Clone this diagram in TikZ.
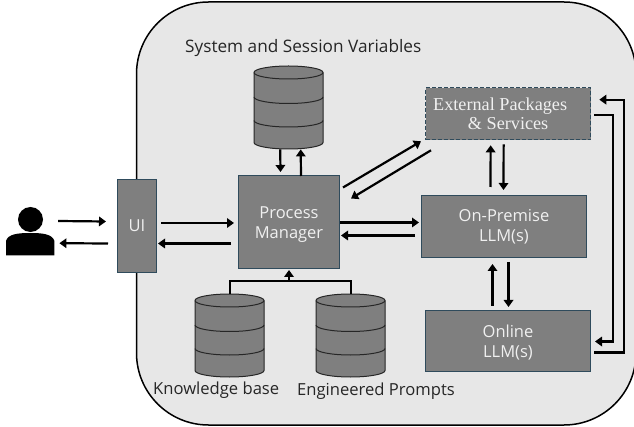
\documentclass[tikz,border=0pt]{standalone}
\usepackage{fontspec}
\setmainfont{Open Sans}
\newfontfamily\serifbox{Liberation Serif}
\usetikzlibrary{arrows.meta,calc}
\definecolor{boxgray}{HTML}{7F7F7F}
\definecolor{boxedge}{HTML}{2F4B5C}
\definecolor{panel}{HTML}{E7E7E7}
\definecolor{labelink}{HTML}{262626}
\definecolor{boxink}{HTML}{F0F0F0}
\tikzset{
  flow/.style={line width=2.2pt,draw=black,-{Triangle[length=7pt,width=9.5pt]}},
  plainflow/.style={line width=2.2pt,draw=black},
  procbox/.style={draw=boxedge,line width=1pt,fill=boxgray,text=boxink,align=center,font=\fontsize{16.5}{20}\selectfont,inner sep=0pt,anchor=north west},
  dbanchor/.style={minimum width=69pt,minimum height=83pt,inner sep=0pt,anchor=north west},
  caption/.style={text=labelink,font=\fontsize{16.6}{20}\selectfont,inner sep=0pt},
}
\newcommand{\dbcyl}[2]{%
  \begin{scope}[shift={(#1,#2)},line width=1pt]
    \filldraw[fill=boxgray,draw=black!85] (0,6.5) -- (0,76.5) arc[start angle=180,end angle=0,x radius=34.5,y radius=6.5] -- (69,6.5) arc[start angle=0,end angle=-180,x radius=34.5,y radius=6.5] -- cycle;
    \draw[black!85] (0,6.5) arc[start angle=180,end angle=0,x radius=34.5,y radius=6.5];
    \draw[black!85] (0,31) arc[start angle=180,end angle=0,x radius=34.5,y radius=6.5];
    \draw[black!85] (0,54.5) arc[start angle=180,end angle=0,x radius=34.5,y radius=6.5];
  \end{scope}}
\begin{document}
\begin{tikzpicture}[x=1pt,y=-1pt]
\useasboundingbox (0,0) rectangle (634,427);
\begin{scope}
\clip (0,0) rectangle (634,427);
\draw[fill=panel,draw=black,line width=1.5pt,rounded corners=72pt] (136.5,2) rectangle (636,425);
\end{scope}
% person
\node[circle,fill=black,minimum size=25pt,inner sep=0pt] (head) at (30.5,219.5) {};
\node[inner sep=0pt,minimum width=48pt,minimum height=22pt,anchor=north west] (body) at (6,233) {};
\fill[black] (body.south west) -- ($(body.north west)+(0,8)$) .. controls ($(body.north west)+(2,1)$) and ($(body.north west)+(12,0)$) .. (body.north) .. controls ($(body.north east)+(-12,0)$) and ($(body.north east)+(-2,1)$) .. ($(body.north east)+(0,8)$) -- (body.south east) -- cycle;
% boxes
\node[procbox,minimum width=39pt,minimum height=93pt] (ui) at (117,179) {UI};
\node[procbox,minimum width=101pt,minimum height=93pt] (pm) at (238,175) {\rule{0pt}{17pt}Process\\Manager};
\node[procbox,dash pattern=on 4pt off 2pt,line width=1.3pt,minimum width=165pt,minimum height=52pt,font=\serifbox\fontsize{18.2}{18.5}\selectfont] (ext) at (425,87) {External Packages\hspace*{16pt}\\\& Services};
\node[procbox,minimum width=165pt,minimum height=62pt] (onp) at (421,195) {On-Premise\\LLM(s)};
\node[procbox,minimum width=165pt,minimum height=61pt] (onl) at (425,310) {\rule{0pt}{16.5pt}Online\\LLM(s)};
% databases
\node[dbanchor] (sys) at (254,66) {};
\node[dbanchor] (kb) at (195,294) {};
\node[dbanchor] (ep) at (316,294) {};
\dbcyl{254}{66}\dbcyl{195}{294}\dbcyl{316}{294}
% captions
\node[caption,anchor=west,font=\fontsize{17.2}{20}\selectfont] (syslab) at (185,48) {System and Session Variables};
\node[caption,anchor=west] (kblab) at (153,390) {Knowledge base};
\node[caption,anchor=west] (eplab) at (297,391) {Engineered Prompts};
% connectors
\draw[flow] ($(head.east)+(15,1.5)$) -- ($(ui.west)+(-11,-4.5)$);
\draw[flow] ($(ui.west)+(-9,17.5)$) -- ($(body.east)+(5,-1)$);
\draw[flow] ($(ui.east)+(4,-3)$) -- ($(pm.west)+(-4,1)$);
\draw[flow] ($(pm.west)+(-7,21.5)$) -- ($(ui.east)+(1,17.5)$);
\draw[flow] ($(pm.east)+(0,.5)$) -- ($(onp.west)+(-2,-4)$);
\draw[flow] ($(onp.west)+(-6,9)$) -- ($(pm.east)+(1,13.5)$);
\draw[flow] ($(sys.south)+(-8.5,0)$) -- ($(pm.north)+(-8.5,-3)$);
\draw[flow] ($(pm.north)+(12,1)$) -- ($(sys.south)+(12,0)$);
\draw[flow] ($(pm.east)+(3,-34.5)$) -- ($(ext.south west)+(-4,1)$);
\draw[flow] ($(ext.south west)+(6,10)$) -- ($(pm.east)+(11,-23.5)$);
\draw[flow] ($(onp.north)+(-13.5,-8)$) -- ($(ext.south)+(-17.5,5)$);
\draw[flow] ($(ext.south)+(-4.5,4)$) -- ($(onp.north)+(-.5,-5)$);
\draw[flow] ($(onl.north)+(-15.5,-4)$) -- ($(onp.south)+(-11.5,6)$);
\draw[flow] ($(onp.south)+(4.5,4)$) -- ($(onl.north)+(.5,-3)$);
\draw[flow] ($(ext.east)+(3,1)$) -- ++(19,0) |- ($(onl.east)+(4,.5)$);
\draw[flow] ($(onl.east)+(3,11.5)$) -- ++(30,0) |- ($(ext.east)+(8,-14)$);
\draw[plainflow] (kb.north) -- ++(0,-13) -| (ep.north);
\draw[flow] ($(pm.south)+(0,13)$) -- ($(pm.south)+(0,1)$);
\end{tikzpicture}
\end{document}
